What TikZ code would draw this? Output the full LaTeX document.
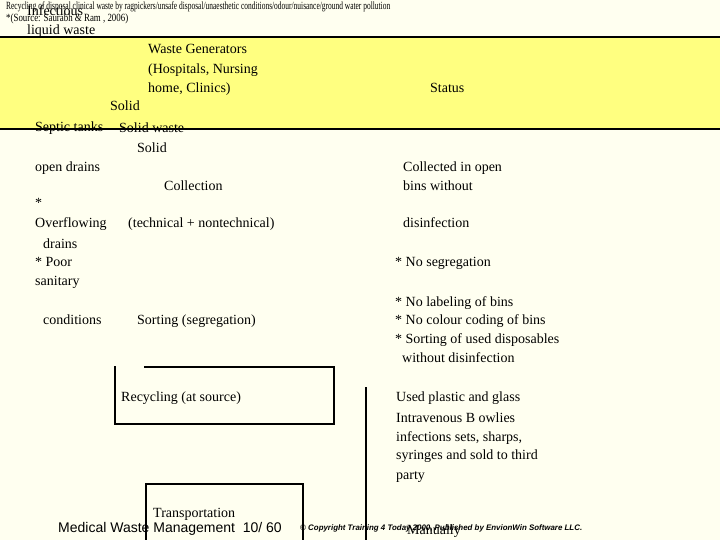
\documentclass[tikz,border=0pt]{standalone}
\usepackage{fontspec}
\setmainfont{Liberation Serif}
\newfontfamily\arialf{Liberation Sans}
\usepackage{graphicx}
\definecolor{bgc}{HTML}{FFFFF0}
\definecolor{yel}{HTML}{FFFF80}
\tikzset{
  txt/.style={anchor=base west, inner sep=0pt, font=\fontsize{14}{16}\selectfont},
  boxline/.style={line width=2pt, line cap=rect},
}
\begin{document}
\begin{tikzpicture}[x=1pt,y=-1pt]
\fill[bgc] (0,0) rectangle (720,540);
\useasboundingbox (0,0) rectangle (720,540);
% yellow band
\draw[fill=yel, line width=1.5pt] (-2,37) rectangle (722,129);
% top texts
\node[txt] (inf) at (27,16) {Infectious};
\node[anchor=base west, inner sep=0pt] (title) at (6,10) {\resizebox{384pt}{\height}{\fontsize{11}{12}\selectfont Recycling of disposal clinical waste by ragpickers/unsafe disposal/unaesthetic conditions/odour/nuisance/ground water pollution}};
\node[anchor=base west, inner sep=0pt] (src) at (6,21.5) {\resizebox{122pt}{\height}{\fontsize{11}{12}\selectfont *(Source: Saurabh \& Ram , 2006)}};
\node[txt] (liq) at (27,34.5) {liquid waste};
% yellow band texts
\node[txt] (wg1) at (148,53.5) {Waste Generators};
\node[txt] (wg2) at (148,73.5) {(Hospitals, Nursing};
\node[txt] (wg3) at (148,92.5) {home, Clinics)};
\node[txt] (status) at (430,92.5) {Status};
\node[txt] (solid1) at (110,110.5) {Solid};
\node[txt] (septic) at (35,131.5) {Septic tanks};
\node[txt] (solidw) at (119,132.5) {Solid waste};
% left column
\node[txt] (solid2) at (137,152.5) {Solid};
\node[txt] (open) at (35,171.5) {open drains};
\node[txt] (coll) at (164,190.5) {Collection};
\node[txt] (star) at (35,207.5) {*};
\node[txt] (over) at (35,227.5) {Overflowing};
\node[txt] (tech) at (128,227.5) {(technical + nontechnical)};
\node[txt] (drains) at (43,248.5) {drains};
\node[txt] (poor) at (35,266.5) {* Poor};
\node[txt] (sanit) at (35,285.5) {sanitary};
\node[txt] (cond) at (43,324.5) {conditions};
\node[txt] (sort) at (137,324.5) {Sorting (segregation)};
% right column
\node[txt] (c1) at (403,171.5) {Collected in open};
\node[txt] (c2) at (403,190.5) {bins without};
\node[txt] (c3) at (403,227.5) {disinfection};
\node[txt] (n1) at (395,266.5) {* No segregation};
\node[txt] (n2) at (395,306.5) {* No labeling of bins};
\node[txt] (n3) at (395,324.5) {* No colour coding of bins};
\node[txt] (n4) at (395,343.5) {* Sorting of used disposables};
\node[txt] (n5) at (402,362.5) {without disinfection};
% recycling
\node[txt] (recy) at (121,401.5) {Recycling (at source)};
\node[txt] (u1) at (396,401.5) {Used plastic and glass};
\node[txt] (u2) at (396,422.5) {Intravenous B owlies};
\node[txt] (u3) at (396,441.5) {infections sets, sharps,};
\node[txt] (u4) at (396,459.5) {syringes and sold to third};
\node[txt] (u5) at (396,479.5) {party};
% bottom
\node[txt] (trans) at (153,517.5) {Transportation};
\node[anchor=base west, inner sep=0pt, font=\arialf\fontsize{14}{16}\selectfont] (footer) at (58,532) {Medical Waste Management\ \ 10/ 60};
\node[anchor=base west, inner sep=0pt] (copy) at (300,530) {\resizebox{282pt}{\height}{\arialf\fontsize{8}{9}\selectfont\bfseries\itshape \textcopyright\ Copyright Training 4 Today 2000, Published by EnvionWin Software LLC.}};
\node[txt] (manu) at (407,534) {Manually};
% box lines
\coordinate (r1) at (145,367);
\coordinate (r2) at (334,367);
\coordinate (r3) at (334,424);
\coordinate (r4) at (115,424);
\coordinate (r5) at (115,367);
\draw[boxline] (r1) -- (r2) -- (r3) -- (r4) -- (r5);
\coordinate (t1) at (146,545);
\coordinate (t2) at (146,484);
\coordinate (t3) at (303,484);
\coordinate (t4) at (303,545);
\draw[boxline] (t1) -- (t2) -- (t3) -- (t4);
\coordinate (v1) at (366,387);
\coordinate (v2) at (366,545);
\draw[line width=2pt] (v1) -- (v2);
\end{tikzpicture}
\end{document}
